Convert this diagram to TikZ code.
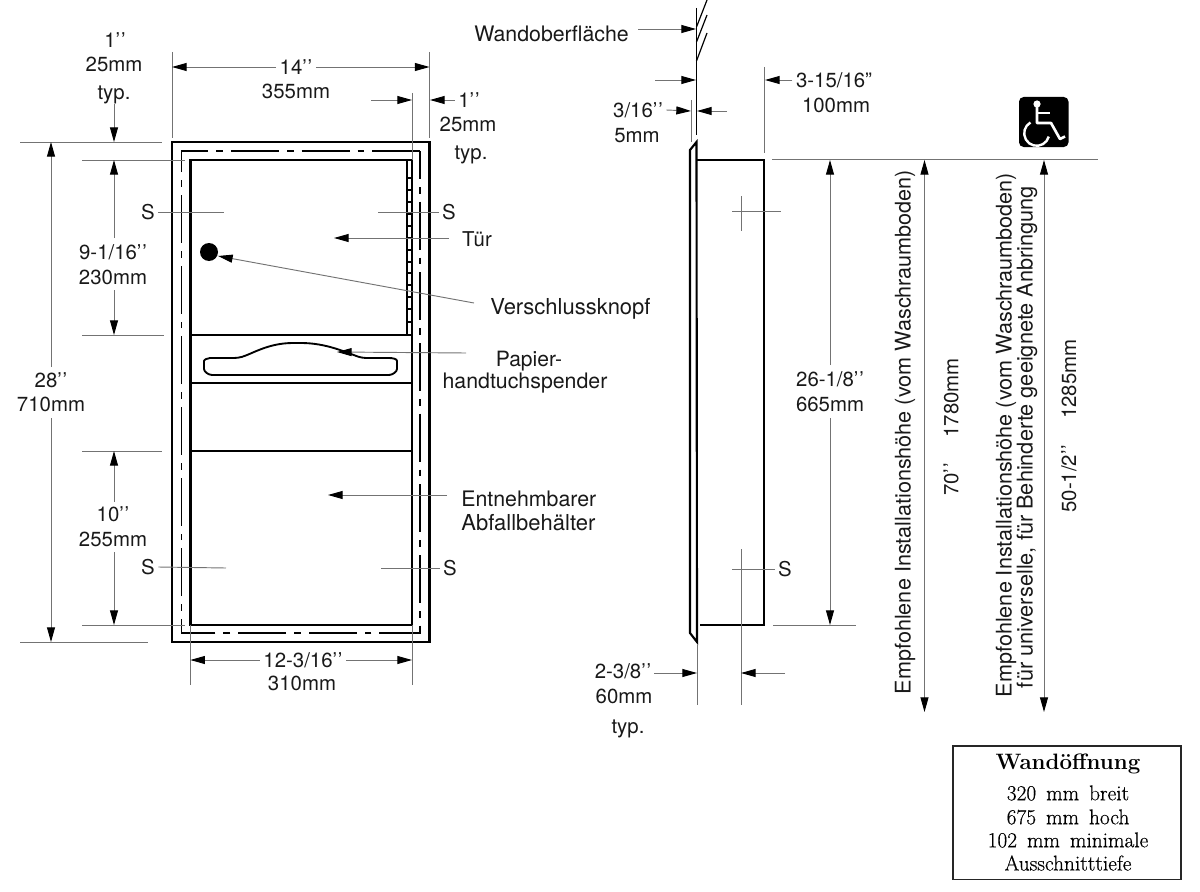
\documentclass[tikz,border=0pt]{standalone}
\usepackage{fontspec}
\setsansfont{TeX Gyre Heros}
\newfontfamily\tabfont[RawFeature={embolden=0.5}]{Latin Modern Roman}
\usetikzlibrary{arrows.meta}
\newcommand{\qq}{{'}\kern0.6pt{'}}
\tikzset{
  x=0.75pt,y=-0.75pt,
  main/.style={line width=1.95pt,black,line join=miter},
  thin main/.style={line width=1.3pt,black},
  dashrect/.style={line width=1pt,black,dash pattern=on 36pt off 6pt on 5pt off 6pt,dash phase=15pt},
  ext/.style={line width=0.7pt,black!55},
  dim/.style={ext,-{Triangle[length=11pt,width=6pt,fill=black,color=black]}},
  dimb/.style={ext,{Triangle[length=11pt,width=6pt,fill=black,color=black]}-{Triangle[length=11pt,width=6pt,fill=black,color=black]}},
  lab/.style={font=\sffamily\fontsize{15.3}{18}\selectfont,text=black!90,inner sep=2.5pt,text height=11pt,text depth=0pt},
  rot/.style={font=\sffamily\fontsize{16.2}{18}\selectfont,text=black!90,inner sep=0pt,rotate=90,anchor=center},
  rotb/.style={font=\sffamily\fontsize{15.3}{18}\selectfont,text=black!90,inner sep=0pt,rotate=90,anchor=center},
  serif/.style={font=\tabfont\fontsize{16}{19}\selectfont,text=black,inner sep=0pt},
}
\begin{document}
\begin{tikzpicture}
\useasboundingbox (0,0) rectangle (1200,892);
% ---- front view body
\draw[main] (172,142) rectangle (429.5,642);
\draw[dashrect] (420,151) -- (420,633) -- (181.5,633) -- (181.5,151) -- (420,151);
\draw[main] (190.3,160) rectangle (412,625);
\draw[main] (190,335) -- (412,335);
\draw[main] (190,383) -- (412,383);
\draw[main] (190,451) -- (412,451);
\draw[thin main] (406.8,160) -- (406.8,335);
\foreach \y in {178,190,202,214,226,238,250,262,273,285,297,309,322} \draw[line width=1.2pt,black] (406.8,\y) -- (412,\y);
\fill[black] (209,252) circle[radius=9];
\draw[line width=1.4pt,black,rounded corners=3pt]
  (238,358) .. controls (252,354) and (268,343) .. (297,343)
  .. controls (326,343) and (345,352) .. (362,358)
  -- (385,358) .. controls (393,358) and (397,359) .. (397,365)
  .. controls (397,372) and (392,375) .. (385,375)
  -- (216,375) .. controls (209,375) and (204,372) .. (204,365)
  .. controls (204,360) and (207,358) .. (214,358) -- cycle;
% ---- extension lines front
\draw[ext] (172,52) -- (172,138);
\draw[ext] (429.5,52) -- (429.5,138);
\draw[ext] (412,93) -- (412,160);
\draw[ext] (20,142) -- (162,142);
\draw[ext] (82,160) -- (185,160);
\draw[ext] (82,335) -- (164,335);
\draw[ext] (82,451) -- (162,451);
\draw[ext] (82,625) -- (185,625);
\draw[ext] (20,642) -- (148,642);
\draw[ext] (190.3,625) -- (190.3,685);
\draw[ext] (412,625) -- (412,685);
% ---- labels and dimensions front
\node[lab] (w14) at (296,67) {14\qq};
\node[lab] (w14b) at (296,91) {355mm};
\draw[dim] (w14.west) -- (172,67);
\draw[dim] (w14.east) -- (429.5,67);
\node[lab] (o1) at (115,40) {1\qq};
\node[lab] (o1b) at (114,64) {25mm};
\node[lab] (o1c) at (114,92) {typ.};
\draw[dim] (114,104) -- (114,142);
\node[lab] (r1) at (469,100) {1\qq};
\node[lab] (r1b) at (468,124) {25mm};
\node[lab] (r1c) at (471,152) {typ.};
\draw[dim] (371,100) -- (412,100);
\draw[dim] (r1.west) -- (430,100);
\node[lab] (h9) at (113,252) {9-1/16\qq};
\node[lab] (h9b) at (113,277) {230mm};
\draw[dim] (114,238) -- (114,160);
\draw[dim] (114,290) -- (114,335);
\node[lab] (h28) at (51,380) {28\qq};
\node[lab] (h28b) at (51,404) {710mm};
\draw[dim] (51,367) -- (51,142);
\draw[dim] (51,418) -- (51,642);
\node[lab] (h10) at (113,514) {10\qq};
\node[lab] (h10b) at (113,539) {255mm};
\draw[dim] (114,502) -- (114,451);
\draw[dim] (114,552) -- (114,625);
\node[lab] (w12) at (303,660) {12-3/16\qq};
\node[lab] (w12b) at (302,683) {310mm};
\draw[dim] (w12.west) -- (190.3,660);
\draw[dim] (w12.east) -- (412,660);
\node[lab] (s1) at (148,212) {S};
\node[lab] (s2) at (449,212) {S};
\node[lab] (s3) at (148,567) {S};
\node[lab] (s4) at (450,568) {S};
\node[lab] (s5) at (785,569) {S};
\draw[ext] (s1.east) -- (224,212);
\draw[ext] (s2.west) -- (378,212);
\draw[ext] (s3.east) -- (226,568);
\draw[ext] (s4.west) -- (381,568);
\node[lab] (tuer) at (477,239) {Tür};
\draw[dim] (449,238) -- (334,238);
\node[lab,anchor=west,inner sep=0pt,font=\sffamily\fontsize{16.5}{18}\selectfont] (knopf) at (490,307) {Verschlussknopf};
\coordinate (knopfa) at (474,303);
\draw[dim] (knopfa) -- (218,256);
\node[lab,font=\sffamily\fontsize{15.8}{18}\selectfont] (pap) at (529,359) {Papier-};
\node[lab,font=\sffamily\fontsize{16}{18}\selectfont] (pap2) at (525,381) {handtuchspender};
\coordinate (papa) at (466,353);
\draw[dim] (papa) -- (337,352);
\node[lab,anchor=west,inner sep=0pt,font=\sffamily\fontsize{16}{18}\selectfont] (ent) at (461,499) {Entnehmbarer};
\node[lab,anchor=west,inner sep=0pt,font=\sffamily\fontsize{16.5}{18}\selectfont] (abf) at (461,523) {Abfallbehälter};
\coordinate (enta) at (447,495);
\draw[dim] (enta) -- (328,495);
% ---- side view
\draw[line width=1pt,black] (696.5,8) -- (696.5,135);
\draw[line width=0.9pt,black] (707,0) -- (696.5,27) (707,15) -- (696.5,42) (707,33) -- (696.5,61);
\draw[main,line width=1.6pt] (696.5,142) -- (690,150) -- (690,633) -- (697,642) -- cycle;
\draw[main] (697,160) -- (764,160) -- (764,625) -- (700,625);
\node[lab,anchor=east,inner sep=0pt,font=\sffamily\fontsize{16}{18}\selectfont] (wand) at (629,34) {Wandoberfläche};
\coordinate (wanda) at (638,29);
\draw[dim] (wanda) -- (696,29);
\draw[dim] (655,80) -- (696,80);
\node[lab] (d3) at (638,110) {3/16\qq};
\node[lab] (d3b) at (637,135) {5mm};
\draw[dim] (d3.east) -- (691,111);
\draw[dim] (727,111) -- (697,111);
\draw[ext] (691,100) -- (691,142);
\draw[ext] (764,67) -- (764,153);
\node[lab] (t3) at (834,80) {3-15/16"};
\node[lab] (t3b) at (836,105) {100mm};
\draw[dim] (t3.west) -- (765,80);
\draw[ext] (732,211) -- (781,211);
\draw[ext] (741,196) -- (741,231);
\draw[ext] (s5.west) -- (732,569);
\draw[ext] (741,549) -- (741,705);
\draw[ext] (697,645) -- (697,705);
\node[lab] (d2) at (623,671) {2-3/8\qq};
\node[lab] (d2b) at (624,696) {60mm};
\node[lab] (d2c) at (628,726) {typ.};
\draw[dim] (654,673) -- (697,673);
\draw[dim] (785,673) -- (741,673);
\draw[ext] (772,159) -- (1098,159);
\draw[ext] (773,625) -- (856,625);
\node[lab] (h26) at (830,379) {26-1/8\qq};
\node[lab] (h26b) at (830,404) {665mm};
\draw[dim] (830,365) -- (830,160);
\draw[dim] (830,418) -- (830,625);
\draw[dimb] (924.5,160) -- (924.5,712);
\draw[dimb] (1044,160) -- (1044,712);
\node[rot] (e1) at (905,432) {Empfohlene Installationshöhe (vom Waschraumboden)};
\node[rotb] (e2) at (951,427) {70\qq\hspace{1em} 1780mm};
\node[rot] (e3) at (1006,435) {Empfohlene Installationshöhe (vom Waschraumboden)};
\node[rot,font=\sffamily\fontsize{16.3}{18}\selectfont] (e4) at (1027,437) {für universelle, für Behinderte geeignete Anbringung};
\node[rotb] (e5) at (1069,426) {50-1/2\qq\hspace{1em} 1285mm};
% ---- accessibility icon
\fill[black,rounded corners=3.5pt] (1019,97) rectangle (1068.5,147);
\fill[white] (1037,104) circle[radius=3.6];
\draw[white,line width=2pt,line join=round] (1037,104) -- (1037,123) -- (1051,123) -- (1060,139) -- (1065,136.5);
\draw[white,line width=1.8pt] (1037,113) -- (1050,113);
\draw[white,line width=1.8pt] (1036.7,133.3) ++(240:12.5) arc[start angle=240,end angle=15,radius=12.5];
% ---- table
\draw[line width=1.2pt,black!85] (953,746) rectangle (1181,879.5);
\node[serif,font=\rmfamily\bfseries\fontsize{16.7}{19}\selectfont] (t0) at (1068,764) {Wandöffnung};
\node[serif] (t1) at (1068,793) {320\, mm\, breit};
\node[serif] (t2) at (1068,817) {675\, mm\, hoch};
\node[serif] (t3x) at (1068,840) {102\, mm\, minimale};
\node[serif] (t4) at (1068,863) {Ausschnitttiefe};
\end{tikzpicture}
\end{document}
